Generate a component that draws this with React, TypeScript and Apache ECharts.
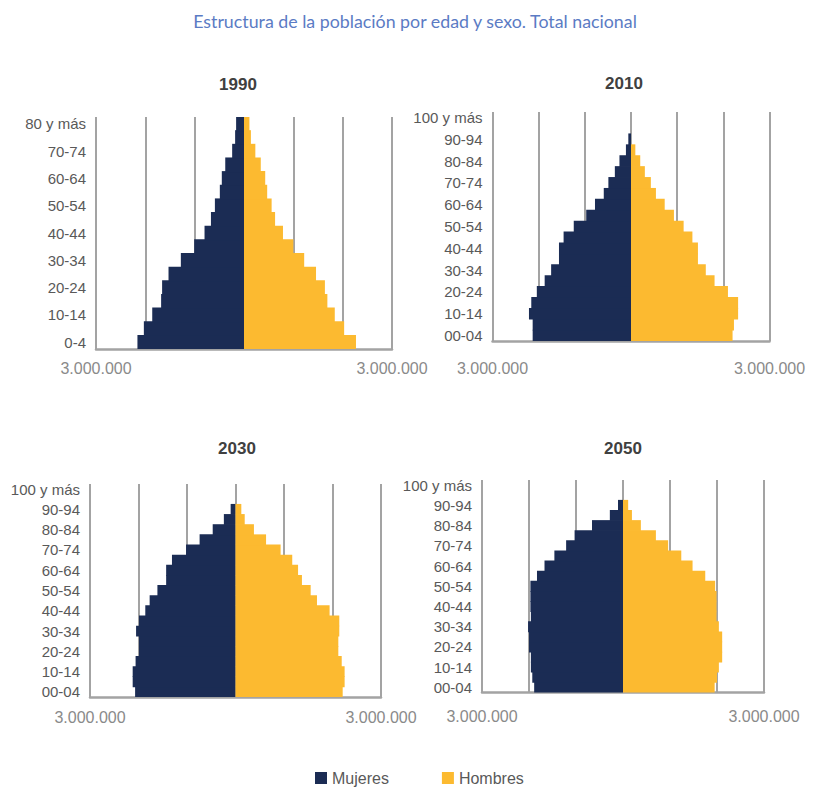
import React, { useEffect, useRef } from "react";
import * as echarts from "echarts";

const mainTitle = "Estructura de la población por edad y sexo. Total nacional";
const seriesNames = ["Mujeres", "Hombres"];
const years = ["1990", "2010", "2030", "2050"];

const cats1990 = [
  "0-4", "5-9", "10-14", "15-19", "20-24", "25-29", "30-34", "35-39", "40-44",
  "45-49", "50-54", "55-59", "60-64", "65-69", "70-74", "75-79", "80 y más",
];
const catsLater = [
  "00-04", "05-09", "10-14", "15-19", "20-24", "25-29", "30-34", "35-39", "40-44",
  "45-49", "50-54", "55-59", "60-64", "65-69", "70-74", "75-79", "80-84", "85-89",
  "90-94", "95-99", "100 y más",
];

// null = no bar visible in the reference for that age group
const mujeres1990 = [2160000, 2030000, 1860000, 1680000, 1660000, 1530000, 1280000, 1010000, 800000, 670000, 590000, 490000, 450000, 380000, 240000, 180000, 160000];
const hombres1990 = [2270000, 2030000, 1840000, 1690000, 1640000, 1460000, 1220000, 1000000, 790000, 630000, 560000, 470000, 430000, 340000, 230000, 140000, 110000];

const mujeres2010 = [2130000, 2130000, 2210000, 2160000, 2040000, 1870000, 1730000, 1560000, 1560000, 1460000, 1240000, 970000, 780000, 590000, 490000, 350000, 250000, 110000, 58000, null, null];
const hombres2010 = [2200000, 2230000, 2320000, 2320000, 2100000, 1810000, 1620000, 1450000, 1450000, 1330000, 1140000, 930000, 730000, 540000, 430000, 300000, 200000, 94000, null, null, null];

const mujeres2030 = [2070000, 2120000, 2120000, 2060000, 1990000, 1990000, 2050000, 1990000, 1860000, 1770000, 1610000, 1430000, 1430000, 1310000, 1020000, 740000, 470000, 240000, 100000, null, null];
const hombres2030 = [2210000, 2250000, 2250000, 2190000, 2120000, 2120000, 2140000, 2140000, 1940000, 1680000, 1550000, 1370000, 1290000, 1170000, 930000, 630000, 380000, 190000, 120000, null, null];

const mujeres2050 = [1890000, 1930000, 1960000, 1960000, 2000000, 2000000, 2020000, 1960000, 1970000, 1970000, 1970000, 1830000, 1670000, 1460000, 1210000, 1030000, 660000, 280000, 106000, null, null];
const hombres2050 = [1950000, 2000000, 2040000, 2110000, 2110000, 2110000, 2040000, 1990000, 1990000, 1990000, 1960000, 1750000, 1480000, 1240000, 960000, 700000, 380000, 190000, 110000, null, null];

const axisEndLabel = "3.000.000";
const axisMax = 3000000;
const axisStep = 1000000;

const panels = [
  { year: years[0], cats: cats1990, m: mujeres1990, h: hombres1990, left: 96, top: 117, width: 296, height: 232, labelMargin: 11, tx: 238, ty: 84 },
  { year: years[1], cats: catsLater, m: mujeres2010, h: hombres2010, left: 492.5, top: 112, width: 277, height: 229, labelMargin: 19, tx: 624, ty: 83 },
  { year: years[2], cats: catsLater, m: mujeres2030, h: hombres2030, left: 90, top: 484, width: 291, height: 213, labelMargin: 12, tx: 237, ty: 448 },
  { year: years[3], cats: catsLater, m: mujeres2050, h: hombres2050, left: 482, top: 480, width: 282, height: 212.5, labelMargin: 16, tx: 623, ty: 448 },
];

const NAVY = "#1b2c54";
const YELLOW = "#fcba30";
const GRIDC = "#a3a3a3";
const FONT = "Liberation Sans";

export default function App() {
  const ref = useRef<HTMLDivElement>(null);

  useEffect(() => {
    if (!ref.current) return;
    const chart = echarts.init(ref.current, null, { renderer: "svg" });

    const grid = panels.map((p) => ({ left: p.left, top: p.top, width: p.width, height: p.height, containLabel: false }));
    const xAxis = panels.map((p, i) => ({
      type: "value",
      gridIndex: i,
      min: -axisMax,
      max: axisMax,
      interval: axisStep,
      axisLine: { show: true, onZero: false, lineStyle: { color: GRIDC, width: 2.5 } },
      axisTick: { show: false },
      splitLine: { show: true, lineStyle: { color: GRIDC, width: 2 } },
      axisLabel: {
        show: true,
        margin: p.labelMargin,
        color: "#8a8a8a",
        fontSize: 16,
        fontFamily: FONT,
        showMinLabel: true,
        showMaxLabel: true,
        formatter: (v: number) => (Math.abs(v) === axisMax ? axisEndLabel : ""),
      },
    }));
    const yAxis = panels.map((p, i) => ({
      type: "category",
      gridIndex: i,
      data: p.cats,
      axisLine: { show: false, onZero: false },
      axisTick: { show: false },
      splitLine: { show: false },
      axisLabel: {
        interval: 1,
        margin: 10,
        color: "#595959",
        fontSize: 15,
        fontFamily: FONT,
      },
    }));
    const series: any[] = [];
    panels.forEach((p, i) => {
      series.push({
        name: seriesNames[0],
        type: "bar",
        xAxisIndex: i,
        yAxisIndex: i,
        data: p.m.map((v) => (v == null ? null : -v)),
        barGap: "-100%",
        barWidth: "107%",
        itemStyle: { color: NAVY },
        z: 3,
      });
      series.push({
        name: seriesNames[1],
        type: "bar",
        xAxisIndex: i,
        yAxisIndex: i,
        data: p.h,
        barGap: "-100%",
        barWidth: "107%",
        itemStyle: { color: YELLOW },
        z: 3,
      });
    });

    const graphic: any[] = [
      {
        type: "text",
        x: 415,
        y: 21,
        style: { text: mainTitle, fill: "#5b7bc4", font: "17.8px Lato", textAlign: "center", textVerticalAlign: "middle" },
      },
      ...panels.map((p) => ({
        type: "text",
        x: p.tx,
        y: p.ty,
        style: { text: p.year, fill: "#404040", font: `bold 17px ${FONT}`, textAlign: "center", textVerticalAlign: "middle" },
      })),
    ];

    chart.setOption({
      animation: false,
      backgroundColor: "#ffffff",
      textStyle: { fontFamily: FONT },
      grid,
      xAxis,
      yAxis,
      series,
      graphic,
      legend: {
        data: seriesNames,
        left: 310,
        top: 765,
        icon: "rect",
        itemWidth: 12,
        itemHeight: 12,
        itemGap: 53,
        textStyle: { fontSize: 16, color: "#595959", fontFamily: FONT },
        selectedMode: false,
      },
      tooltip: { show: false },
    });

    return () => chart.dispose();
  }, []);

  return <div ref={ref} style={{ position: "absolute", left: 0, top: 0, width: 814, height: 790 }} />;
}
